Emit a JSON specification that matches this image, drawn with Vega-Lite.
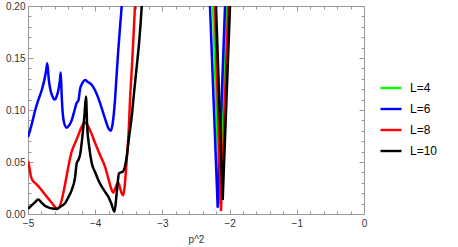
{
  "$schema": "https://vega.github.io/schema/vega-lite/v6.json",
  "autosize": "none",
  "width": 336,
  "height": 208,
  "padding": {"left": 28, "top": 6, "right": 94, "bottom": 33},
  "background": "white",
  "config": {"view": {"stroke": null}, "font": "Liberation Sans"},
  "data": {"values": [
    {"L": "L=4", "seg": 2, "x": -2.265, "y": 0.24},
    {"L": "L=4", "seg": 2, "x": -2.247, "y": 0.2},
    {"L": "L=4", "seg": 2, "x": -2.150, "y": 0.01},
    {"L": "L=4", "seg": 2, "x": -2.039, "y": 0.2},
    {"L": "L=4", "seg": 2, "x": -2.02, "y": 0.24},
    {"L": "L=6", "seg": 1, "x": -5.0, "y": 0.074},
    {"L": "L=6", "seg": 1, "x": -4.95, "y": 0.085},
    {"L": "L=6", "seg": 1, "x": -4.896, "y": 0.099},
    {"L": "L=6", "seg": 1, "x": -4.85, "y": 0.109},
    {"L": "L=6", "seg": 1, "x": -4.796, "y": 0.119},
    {"L": "L=6", "seg": 1, "x": -4.76, "y": 0.128},
    {"L": "L=6", "seg": 1, "x": -4.73, "y": 0.138},
    {"L": "L=6", "seg": 1, "x": -4.713, "y": 0.145},
    {"L": "L=6", "seg": 1, "x": -4.69, "y": 0.129},
    {"L": "L=6", "seg": 1, "x": -4.665, "y": 0.119},
    {"L": "L=6", "seg": 1, "x": -4.647, "y": 0.115},
    {"L": "L=6", "seg": 1, "x": -4.62, "y": 0.111},
    {"L": "L=6", "seg": 1, "x": -4.598, "y": 0.110},
    {"L": "L=6", "seg": 1, "x": -4.575, "y": 0.113},
    {"L": "L=6", "seg": 1, "x": -4.549, "y": 0.119},
    {"L": "L=6", "seg": 1, "x": -4.528, "y": 0.127},
    {"L": "L=6", "seg": 1, "x": -4.513, "y": 0.136},
    {"L": "L=6", "seg": 1, "x": -4.50, "y": 0.116},
    {"L": "L=6", "seg": 1, "x": -4.489, "y": 0.102},
    {"L": "L=6", "seg": 1, "x": -4.46, "y": 0.087},
    {"L": "L=6", "seg": 1, "x": -4.424, "y": 0.083},
    {"L": "L=6", "seg": 1, "x": -4.39, "y": 0.085},
    {"L": "L=6", "seg": 1, "x": -4.35, "y": 0.090},
    {"L": "L=6", "seg": 1, "x": -4.31, "y": 0.099},
    {"L": "L=6", "seg": 1, "x": -4.275, "y": 0.107},
    {"L": "L=6", "seg": 1, "x": -4.25, "y": 0.109},
    {"L": "L=6", "seg": 1, "x": -4.226, "y": 0.120},
    {"L": "L=6", "seg": 1, "x": -4.19, "y": 0.126},
    {"L": "L=6", "seg": 1, "x": -4.152, "y": 0.1288},
    {"L": "L=6", "seg": 1, "x": -4.11, "y": 0.127},
    {"L": "L=6", "seg": 1, "x": -4.05, "y": 0.124},
    {"L": "L=6", "seg": 1, "x": -4.003, "y": 0.119},
    {"L": "L=6", "seg": 1, "x": -3.94, "y": 0.109},
    {"L": "L=6", "seg": 1, "x": -3.88, "y": 0.097},
    {"L": "L=6", "seg": 1, "x": -3.83, "y": 0.087},
    {"L": "L=6", "seg": 1, "x": -3.80, "y": 0.082},
    {"L": "L=6", "seg": 1, "x": -3.769, "y": 0.080},
    {"L": "L=6", "seg": 1, "x": -3.74, "y": 0.087},
    {"L": "L=6", "seg": 1, "x": -3.705, "y": 0.110},
    {"L": "L=6", "seg": 1, "x": -3.68, "y": 0.135},
    {"L": "L=6", "seg": 1, "x": -3.656, "y": 0.158},
    {"L": "L=6", "seg": 1, "x": -3.63, "y": 0.180},
    {"L": "L=6", "seg": 1, "x": -3.606, "y": 0.200},
    {"L": "L=6", "seg": 1, "x": -3.58, "y": 0.230},
    {"L": "L=6", "seg": 2, "x": -2.31, "y": 0.23},
    {"L": "L=6", "seg": 2, "x": -2.292, "y": 0.2},
    {"L": "L=6", "seg": 2, "x": -2.177, "y": 0.006},
    {"L": "L=6", "seg": 2, "x": -2.068, "y": 0.2},
    {"L": "L=6", "seg": 2, "x": -2.05, "y": 0.23},
    {"L": "L=8", "seg": 1, "x": -5.0, "y": 0.051},
    {"L": "L=8", "seg": 1, "x": -4.98, "y": 0.045},
    {"L": "L=8", "seg": 1, "x": -4.96, "y": 0.037},
    {"L": "L=8", "seg": 1, "x": -4.93, "y": 0.032},
    {"L": "L=8", "seg": 1, "x": -4.896, "y": 0.030},
    {"L": "L=8", "seg": 1, "x": -4.85, "y": 0.027},
    {"L": "L=8", "seg": 1, "x": -4.82, "y": 0.0247},
    {"L": "L=8", "seg": 1, "x": -4.75, "y": 0.019},
    {"L": "L=8", "seg": 1, "x": -4.70, "y": 0.015},
    {"L": "L=8", "seg": 1, "x": -4.65, "y": 0.011},
    {"L": "L=8", "seg": 1, "x": -4.60, "y": 0.007},
    {"L": "L=8", "seg": 1, "x": -4.57, "y": 0.005},
    {"L": "L=8", "seg": 1, "x": -4.54, "y": 0.006},
    {"L": "L=8", "seg": 1, "x": -4.50, "y": 0.013},
    {"L": "L=8", "seg": 1, "x": -4.45, "y": 0.028},
    {"L": "L=8", "seg": 1, "x": -4.40, "y": 0.0455},
    {"L": "L=8", "seg": 1, "x": -4.35, "y": 0.060},
    {"L": "L=8", "seg": 1, "x": -4.30, "y": 0.068},
    {"L": "L=8", "seg": 1, "x": -4.25, "y": 0.076},
    {"L": "L=8", "seg": 1, "x": -4.20, "y": 0.084},
    {"L": "L=8", "seg": 1, "x": -4.162, "y": 0.0878},
    {"L": "L=8", "seg": 1, "x": -4.12, "y": 0.086},
    {"L": "L=8", "seg": 1, "x": -4.06, "y": 0.078},
    {"L": "L=8", "seg": 1, "x": -4.00, "y": 0.068},
    {"L": "L=8", "seg": 1, "x": -3.93, "y": 0.057},
    {"L": "L=8", "seg": 1, "x": -3.854, "y": 0.0455},
    {"L": "L=8", "seg": 1, "x": -3.80, "y": 0.033},
    {"L": "L=8", "seg": 1, "x": -3.76, "y": 0.024},
    {"L": "L=8", "seg": 1, "x": -3.731, "y": 0.0205},
    {"L": "L=8", "seg": 1, "x": -3.70, "y": 0.025},
    {"L": "L=8", "seg": 1, "x": -3.675, "y": 0.029},
    {"L": "L=8", "seg": 1, "x": -3.656, "y": 0.030},
    {"L": "L=8", "seg": 1, "x": -3.63, "y": 0.025},
    {"L": "L=8", "seg": 1, "x": -3.60, "y": 0.019},
    {"L": "L=8", "seg": 1, "x": -3.582, "y": 0.018},
    {"L": "L=8", "seg": 1, "x": -3.56, "y": 0.028},
    {"L": "L=8", "seg": 1, "x": -3.531, "y": 0.052},
    {"L": "L=8", "seg": 1, "x": -3.50, "y": 0.082},
    {"L": "L=8", "seg": 1, "x": -3.482, "y": 0.1096},
    {"L": "L=8", "seg": 1, "x": -3.455, "y": 0.140},
    {"L": "L=8", "seg": 1, "x": -3.433, "y": 0.167},
    {"L": "L=8", "seg": 1, "x": -3.408, "y": 0.200},
    {"L": "L=8", "seg": 1, "x": -3.39, "y": 0.225},
    {"L": "L=8", "seg": 2, "x": -2.235, "y": 0.24},
    {"L": "L=8", "seg": 2, "x": -2.217, "y": 0.2},
    {"L": "L=8", "seg": 2, "x": -2.128, "y": 0.003},
    {"L": "L=8", "seg": 2, "x": -2.019, "y": 0.2},
    {"L": "L=8", "seg": 2, "x": -2.0, "y": 0.24},
    {"L": "L=10", "seg": 1, "x": -5.0, "y": 0.005},
    {"L": "L=10", "seg": 1, "x": -4.95, "y": 0.008},
    {"L": "L=10", "seg": 1, "x": -4.90, "y": 0.011},
    {"L": "L=10", "seg": 1, "x": -4.847, "y": 0.014},
    {"L": "L=10", "seg": 1, "x": -4.80, "y": 0.011},
    {"L": "L=10", "seg": 1, "x": -4.75, "y": 0.008},
    {"L": "L=10", "seg": 1, "x": -4.698, "y": 0.0064},
    {"L": "L=10", "seg": 1, "x": -4.64, "y": 0.0052},
    {"L": "L=10", "seg": 1, "x": -4.573, "y": 0.0048},
    {"L": "L=10", "seg": 1, "x": -4.52, "y": 0.007},
    {"L": "L=10", "seg": 1, "x": -4.449, "y": 0.0103},
    {"L": "L=10", "seg": 1, "x": -4.40, "y": 0.016},
    {"L": "L=10", "seg": 1, "x": -4.35, "y": 0.023},
    {"L": "L=10", "seg": 1, "x": -4.30, "y": 0.035},
    {"L": "L=10", "seg": 1, "x": -4.275, "y": 0.0487},
    {"L": "L=10", "seg": 1, "x": -4.25, "y": 0.052},
    {"L": "L=10", "seg": 1, "x": -4.226, "y": 0.0567},
    {"L": "L=10", "seg": 1, "x": -4.19, "y": 0.075},
    {"L": "L=10", "seg": 1, "x": -4.16, "y": 0.095},
    {"L": "L=10", "seg": 1, "x": -4.137, "y": 0.113},
    {"L": "L=10", "seg": 1, "x": -4.12, "y": 0.085},
    {"L": "L=10", "seg": 1, "x": -4.09, "y": 0.065},
    {"L": "L=10", "seg": 1, "x": -4.052, "y": 0.049},
    {"L": "L=10", "seg": 1, "x": -4.00, "y": 0.040},
    {"L": "L=10", "seg": 1, "x": -3.954, "y": 0.0327},
    {"L": "L=10", "seg": 1, "x": -3.90, "y": 0.026},
    {"L": "L=10", "seg": 1, "x": -3.85, "y": 0.021},
    {"L": "L=10", "seg": 1, "x": -3.805, "y": 0.0167},
    {"L": "L=10", "seg": 1, "x": -3.76, "y": 0.010},
    {"L": "L=10", "seg": 1, "x": -3.713, "y": 0.0022},
    {"L": "L=10", "seg": 1, "x": -3.68, "y": 0.020},
    {"L": "L=10", "seg": 1, "x": -3.646, "y": 0.039},
    {"L": "L=10", "seg": 1, "x": -3.62, "y": 0.040},
    {"L": "L=10", "seg": 1, "x": -3.591, "y": 0.0407},
    {"L": "L=10", "seg": 1, "x": -3.56, "y": 0.045},
    {"L": "L=10", "seg": 1, "x": -3.531, "y": 0.055},
    {"L": "L=10", "seg": 1, "x": -3.50, "y": 0.072},
    {"L": "L=10", "seg": 1, "x": -3.457, "y": 0.0936},
    {"L": "L=10", "seg": 1, "x": -3.42, "y": 0.118},
    {"L": "L=10", "seg": 1, "x": -3.382, "y": 0.1417},
    {"L": "L=10", "seg": 1, "x": -3.34, "y": 0.170},
    {"L": "L=10", "seg": 1, "x": -3.308, "y": 0.200},
    {"L": "L=10", "seg": 1, "x": -3.29, "y": 0.225},
    {"L": "L=10", "seg": 2, "x": -2.22, "y": 0.24},
    {"L": "L=10", "seg": 2, "x": -2.202, "y": 0.2},
    {"L": "L=10", "seg": 2, "x": -2.103, "y": 0.0135},
    {"L": "L=10", "seg": 2, "x": -1.994, "y": 0.2},
    {"L": "L=10", "seg": 2, "x": -1.975, "y": 0.24}
  ]},
  "layer": [
    {
      "transform": [{"filter": "datum.seg == 1"}],
      "mark": {"type": "line", "clip": true, "strokeWidth": 2.5, "interpolate": "monotone"},
      "encoding": {
        "x": {"field": "x", "type": "quantitative",
          "scale": {"domain": [-5, 0], "nice": false, "zero": false},
          "axis": {
            "orient": "bottom", "title": "p^2",
            "values": [-5,-4.8,-4.6,-4.4,-4.2,-4,-3.8,-3.6,-3.4,-3.2,-3,-2.8,-2.6,-2.4,-2.2,-2,-1.8,-1.6,-1.4,-1.2,-1,-0.8,-0.6,-0.4,-0.2,0],
            "labelExpr": "abs(datum.value - round(datum.value)) < 0.001 ? format(datum.value, 'd') : ''",
            "labelOverlap": false, "labelFlush": false, "labelBound": false,
            "labelFontSize": 10, "labelColor": "#333333", "labelPadding": 9,
            "tickSize": {"condition": {"test": "abs(datum.value - round(datum.value)) < 0.001", "value": -5}, "value": -3},
            "tickColor": "#999999", "domainColor": "#999999", "grid": false,
            "titleFontSize": 10, "titleFontWeight": "normal", "titleColor": "#333333", "titleY": 20, "titleBaseline": "top"
          }},
        "y": {"field": "y", "type": "quantitative",
          "scale": {"domain": [0, 0.2], "nice": false},
          "axis": {
            "orient": "left", "title": null,
            "values": [0,0.01,0.02,0.03,0.04,0.05,0.06,0.07,0.08,0.09,0.1,0.11,0.12,0.13,0.14,0.15,0.16,0.17,0.18,0.19,0.2],
            "labelExpr": "round(datum.value * 100) % 5 == 0 ? format(datum.value, '.2f') : ''",
            "labelOverlap": false, "labelFlush": false, "labelBound": false,
            "labelFontSize": 10, "labelColor": "#333333", "labelPadding": 8,
            "tickSize": {"condition": {"test": "round(datum.value * 100) % 5 == 0", "value": -5}, "value": -3},
            "tickColor": "#999999", "domainColor": "#999999", "grid": false
          }},
        "color": {"field": "L", "type": "nominal",
          "scale": {"domain": ["L=4", "L=6", "L=8", "L=10"], "range": ["#00ff00", "#0000ff", "#ff0000", "#000000"]},
          "legend": {
            "orient": "none", "legendX": 351, "legendY": 70, "title": null,
            "symbolType": "stroke", "symbolSize": 441, "symbolStrokeWidth": 2.4,
            "labelFontSize": 12, "labelColor": "#000000", "labelOffset": 7, "rowPadding": 3, "padding": 0
          }},
        "detail": {"field": "seg", "type": "nominal"}
      }
    },
    {
      "transform": [{"filter": "datum.seg == 2"}],
      "mark": {"type": "line", "clip": true, "strokeWidth": 2.5},
      "encoding": {
        "x": {"field": "x", "type": "quantitative", "axis": null},
        "y": {"field": "y", "type": "quantitative", "axis": null},
        "color": {"field": "L", "type": "nominal"},
        "detail": {"field": "seg", "type": "nominal"}
      }
    },
    {
      "mark": {"type": "point", "opacity": 0},
      "encoding": {
        "x": {"field": "x", "type": "quantitative",
          "axis": {
            "orient": "top", "title": null, "labels": false,
            "values": [-5,-4.8,-4.6,-4.4,-4.2,-4,-3.8,-3.6,-3.4,-3.2,-3,-2.8,-2.6,-2.4,-2.2,-2,-1.8,-1.6,-1.4,-1.2,-1,-0.8,-0.6,-0.4,-0.2,0],
            "tickSize": {"condition": {"test": "abs(datum.value - round(datum.value)) < 0.001", "value": -5}, "value": -3},
            "tickColor": "#999999", "domainColor": "#999999", "grid": false
          }},
        "y": {"field": "y", "type": "quantitative",
          "axis": {
            "orient": "right", "title": null, "labels": false,
            "values": [0,0.01,0.02,0.03,0.04,0.05,0.06,0.07,0.08,0.09,0.1,0.11,0.12,0.13,0.14,0.15,0.16,0.17,0.18,0.19,0.2],
            "tickSize": {"condition": {"test": "round(datum.value * 100) % 5 == 0", "value": -5}, "value": -3},
            "tickColor": "#999999", "domainColor": "#999999", "grid": false
          }}
      }
    }
  ],
  "resolve": {"axis": {"x": "independent", "y": "independent"}}
}
